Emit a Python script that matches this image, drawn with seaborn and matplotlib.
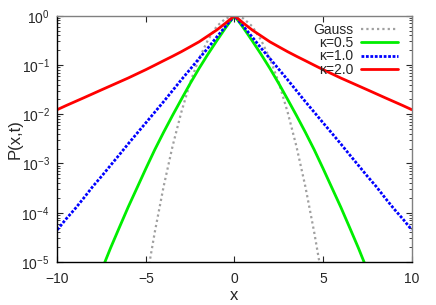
import numpy as np
import pandas as pd
import matplotlib
matplotlib.use("Agg")
import matplotlib.pyplot as plt
import seaborn as sns

# values (right half, x >= 0); curves are symmetric in x
x_half = [0, 0.5, 1, 1.5, 2, 2.5, 3, 3.5, 4, 4.5, 5, 5.5, 6, 6.5, 7, 7.5, 8, 8.5, 9, 9.5, 10]
gauss = [1.0, 0.88, 0.61, 0.32, 0.135, 0.044, 0.011, 2.2e-3, 3.4e-4, 4.0e-5, 3.7e-6,
         2.7e-7, 1.5e-8, 7e-10, 2.3e-11, 6e-13, 1.3e-14, 2e-16, 2.6e-18, 2.4e-20, 1.9e-22]
kappa05 = [1.0, 0.57, 0.31, 0.165, 0.085, 0.042, 0.020, 9.4e-3, 4.3e-3, 1.9e-3, 7.9e-4,
           3.2e-4, 1.3e-4, 5.0e-5, 1.9e-5, 6.8e-6, 2.5e-6, 8.7e-7, 3.0e-7, 1.0e-7, 3.3e-8]
kappa10 = [1.0, 0.61, 0.37, 0.22, 0.135, 0.082, 0.050, 0.030, 0.018, 0.011, 6.7e-3,
           4.1e-3, 2.5e-3, 1.5e-3, 9.1e-4, 5.5e-4, 3.4e-4, 2.0e-4, 1.2e-4, 7.5e-5, 4.5e-5]
kappa20 = [1.0, 0.708, 0.513, 0.389, 0.295, 0.234, 0.186, 0.150, 0.122, 0.0989, 0.0804,
           0.0661, 0.0543, 0.0452, 0.0376, 0.0313, 0.0260, 0.0216, 0.0180, 0.0150, 0.0124]

labels = ["Gauss", "\u03ba=0.5", "\u03ba=1.0", "\u03ba=2.0"]
colors = ["#a0a0a0", "#00ee00", "#0000ff", "#ff0000"]

x_full = [-v for v in x_half[::-1]] + x_half[1:]
def mirror(vals):
    return vals[::-1] + vals[1:]

sns.set_style("ticks")
plt.rcParams['font.family'] = ['Liberation Sans', 'DejaVu Sans']
plt.rcParams['mathtext.fontset'] = 'custom'
plt.rcParams['mathtext.rm'] = 'Liberation Sans'
plt.rcParams['mathtext.it'] = 'Liberation Sans'

fig = plt.figure(figsize=(4.36, 3.05), dpi=100)
ax = fig.add_axes([0.1314, 0.141, 0.8128, 0.8075])

styles = [dict(linewidth=1.6, linestyle=(0, (1, 1.4))),
          dict(linewidth=2.0, linestyle="-"),
          dict(linewidth=2.0, linestyle=(0, (1, 0.6))),
          dict(linewidth=2.0, linestyle="-")]
for vals, lab, col, st in zip([gauss, kappa05, kappa10, kappa20], labels, colors, styles):
    df = pd.DataFrame({"x": x_full, "P": mirror(vals)})
    sns.lineplot(data=df, x="x", y="P", color=col, label=lab, ax=ax, **st)

ax.set_yscale("log")
ax.set_xlim(-10, 10)
ax.set_ylim(1e-5, 1)
ax.set_xticks([-10, -5, 0, 5, 10])
ax.set_xlabel("x", fontsize=12, labelpad=1)
ax.set_ylabel("P(x,t)", fontsize=12, labelpad=-1)
ax.tick_params(which="both", direction="in", top=True, right=True, labelsize=10)
ax.tick_params(which="major", length=4, width=0.8, pad=5.5)
ax.tick_params(axis="x", which="major", pad=7.5)
ax.tick_params(which="minor", length=2, width=0.6)
ax.tick_params(axis="x", which="minor", top=False, bottom=False)
for side in ["left", "bottom"]:
    ax.spines[side].set_color("black")
for side in ["top", "right"]:
    ax.spines[side].set_color("#808080")
for sp in ax.spines.values():
    sp.set_linewidth(1.0)

ax.legend(loc="upper right", bbox_to_anchor=(0.97, 0.985), frameon=False, markerfirst=False,
          fontsize=10, handlelength=2.6, labelspacing=-0.05, borderaxespad=0.0,
          borderpad=0.25, handletextpad=0.6)

fig.savefig("out.png", dpi=100)
